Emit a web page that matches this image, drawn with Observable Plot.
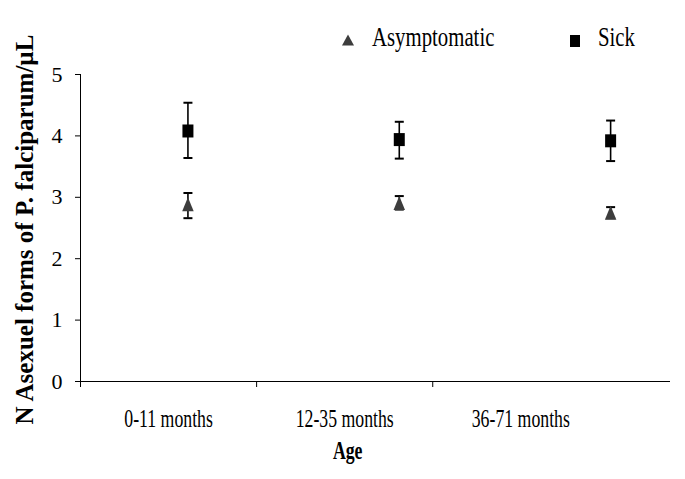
<!DOCTYPE html>
<html>
<head>
<meta charset="utf-8">
<script src="https://cdn.jsdelivr.net/npm/d3@7"></script>
<script src="https://cdn.jsdelivr.net/npm/@observablehq/plot@0.6"></script>
<style>
  html, body { margin: 0; padding: 0; background: #fff; }
  #wrap { width: 685px; height: 479px; position: relative; }
  #legend { display: block; }
  #chart svg { display: block; }
  #wrap svg text { font-family: 'Liberation Serif', 'Times New Roman', Times, serif; }
</style>
</head>
<body>
<div id="wrap">
  <svg id="legend" width="685" height="60">
    <path d="M348,34.5 L354,45.5 L342,45.5 Z" fill="#3d3d3d"></path>
    <text class="squeeze" x="372" y="46" font-size="27" fill="#000">Asymptomatic</text>
    <rect x="570" y="35" width="10" height="12" fill="#000"></rect>
    <text class="squeeze" x="598" y="46" font-size="27" fill="#000">Sick</text>
  </svg>
  <div id="chart"></div>
</div>
<script>
// ---- data ----
const categories = ["0-11 months", "12-35 months", "36-71 months"];
const labelPos   = [0.5, 1.5, 2.5];      // category centres on the axis
const categoryTicks = [0, 1, 2];         // category boundaries
const markerPos  = [0.61, 1.81, 3.01];   // where the markers sit
const asymMean = [2.85, 2.87, 2.71];
const asymLow  = [2.66, 2.80, 2.66];
const asymHigh = [3.07, 3.02, 2.84];
const sickMean = [4.08, 3.94, 3.92];
const sickLow  = [3.64, 3.63, 3.59];
const sickHigh = [4.54, 4.23, 4.25];
const yTicks = [0, 1, 2, 3, 4, 5];
const yLabel = "N Asexuel forms of P. falciparum/µL";
const xLabel = "Age";

const rows = categories.map((c, i) => ({
  cat: c, x: markerPos[i],
  aM: asymMean[i], aL: asymLow[i], aH: asymHigh[i],
  sM: sickMean[i], sL: sickLow[i], sH: sickHigh[i]
}));
const labels = categories.map((c, i) => ({cat: c, x: labelPos[i]}));

// custom symbols (r = 6 gives the reference size)
const k = size => Math.sqrt(size / Math.PI) / 6;
const tri = {draw(ctx, size) { const s = k(size), h = 14 * s, w = 11.5 * s;
  ctx.moveTo(0, -2 * h / 3); ctx.lineTo(w / 2, h / 3); ctx.lineTo(-w / 2, h / 3); ctx.closePath(); }};
const sq = {draw(ctx, size) { const s = k(size), w = 11 * s, h = 13 * s;
  ctx.rect(-w / 2, -h / 2, w, h); }};
const cap = {draw(ctx, size) { const s = k(size), w = 9 * s;
  ctx.moveTo(-w / 2, 0); ctx.lineTo(w / 2, 0); }};

const chart = Plot.plot({
  width: 685,
  height: 419,
  marginTop: 14,
  marginBottom: 98,
  marginLeft: 80,
  marginRight: 15,
  style: {fontSize: "22px", color: "#000", background: "#fff", overflow: "visible"},
  x: {domain: [0, 3.35], axis: null},
  y: {domain: [0, 5], axis: null},
  marks: [
    Plot.axisY({ticks: yTicks, tickSize: 5, tickPadding: 13, fontSize: 22, label: null, tickFormat: d => String(d)}),
    Plot.axisX({ticks: categoryTicks, tickSize: 6, fill: "none", label: null}),
    Plot.ruleX([0], {stroke: "#000", strokeWidth: 1}),
    Plot.ruleY([0], {stroke: "#000", strokeWidth: 1}),
    Plot.text(labels, {x: "x", text: "cat", frameAnchor: "bottom", lineAnchor: "middle", dy: 37.5, fontSize: 25, fill: "#000"}),
    Plot.text([xLabel], {x: labelPos[1], text: d => d, frameAnchor: "bottom", lineAnchor: "middle", dx: 3, dy: 69, fontSize: 25, fontWeight: "bold", fill: "#000"}),
    Plot.text([yLabel], {text: d => d, frameAnchor: "left", textAnchor: "middle", lineAnchor: "middle", rotate: -90, dx: -56, dy: 1.5, fontSize: 25, fontWeight: "bold", fill: "#000"}),
    // error bars
    Plot.ruleX(rows, {x: "x", y1: "aL", y2: "aH", stroke: "#000", strokeWidth: 1.6}),
    Plot.ruleX(rows, {x: "x", y1: "sL", y2: "sH", stroke: "#000", strokeWidth: 1.6}),
    Plot.dot(rows, {x: "x", y: "aL", symbol: cap, r: 6, stroke: "#000", strokeWidth: 2, fill: "none"}),
    Plot.dot(rows, {x: "x", y: "aH", symbol: cap, r: 6, stroke: "#000", strokeWidth: 2, fill: "none"}),
    Plot.dot(rows, {x: "x", y: "sL", symbol: cap, r: 6, stroke: "#000", strokeWidth: 2, fill: "none"}),
    Plot.dot(rows, {x: "x", y: "sH", symbol: cap, r: 6, stroke: "#000", strokeWidth: 2, fill: "none"}),
    // markers
    Plot.dot(rows, {x: "x", y: "aM", symbol: tri, r: 6, fill: "#3d3d3d", stroke: "none"}),
    Plot.dot(rows, {x: "x", y: "sM", symbol: sq, r: 6, fill: "#000", stroke: "none"})
  ]
});
document.getElementById("chart").appendChild(chart);

// the reference's horizontal text is narrow (condensed Times)
function squeeze(el, f, maxLen) {
  let L = el.getComputedTextLength() * f;
  if (maxLen && L > maxLen) L = maxLen;
  el.setAttribute("textLength", L.toFixed(1));
  el.setAttribute("lengthAdjust", "spacingAndGlyphs");
}
chart.querySelectorAll("text").forEach(el => {
  const t = el.textContent;
  if (categories.includes(t) || t === xLabel) squeeze(el, 0.71);
  else if (t === yLabel) squeeze(el, 1, 392);
});
document.querySelectorAll("#legend text.squeeze").forEach(el => squeeze(el, 0.77));
</script>
</body>
</html>
